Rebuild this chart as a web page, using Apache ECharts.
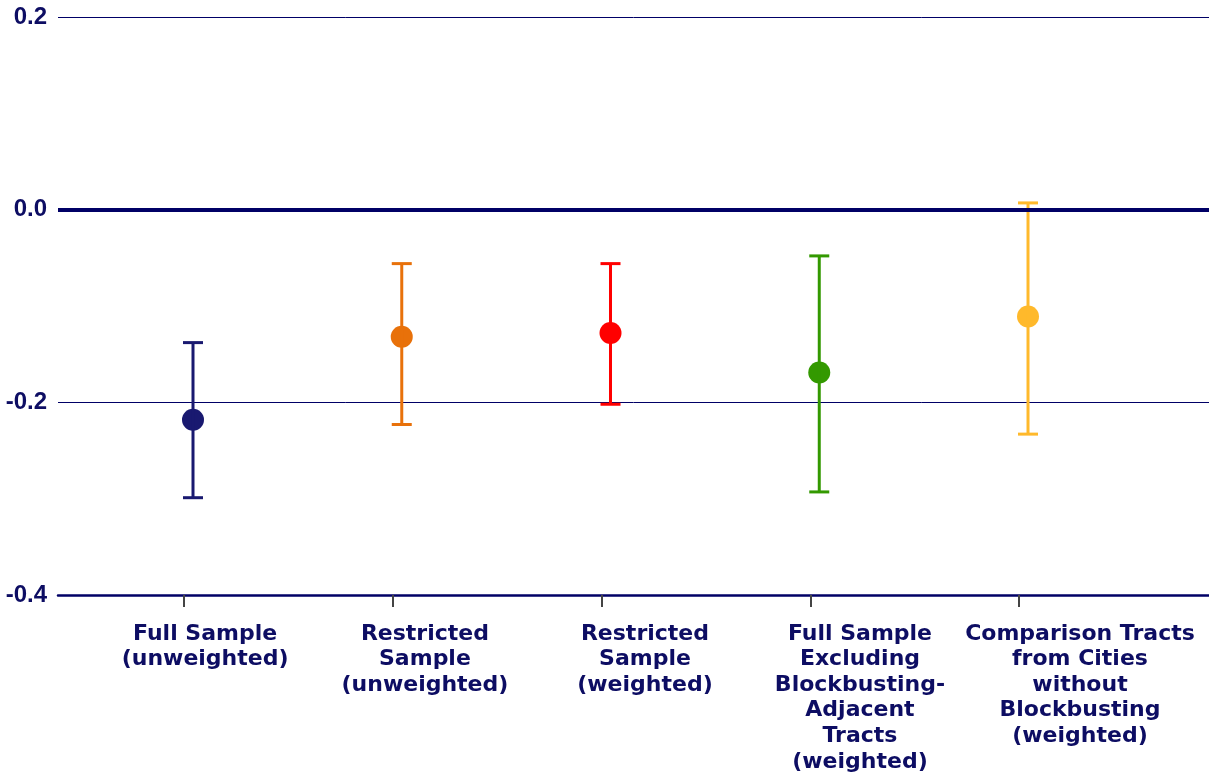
<!DOCTYPE html>
<html>
<head>
<meta charset="utf-8">
<title>Estimates with confidence intervals</title>
<script src="https://cdn.jsdelivr.net/npm/echarts@6/dist/echarts.min.js"></script>
<style>
html,body{margin:0;padding:0;background:#fff;}
#chart{width:1209px;height:776px;}
</style>
</head>
<body>
<div id="chart"></div>
<script>
/* =================================
   data
================================= */

const categories=[
"Full Sample\n(unweighted)",
"Restricted\nSample\n(unweighted)",
"Restricted\nSample\n(weighted)",
"Full Sample\nExcluding\nBlockbusting-\nAdjacent\nTracts\n(weighted)",
"Comparison Tracts\nfrom Cities\nwithout\nBlockbusting\n(weighted)"
];

const estimates=[-0.218,-0.132,-0.128,-0.169,-0.111];

const upper=[-0.138,-0.056,-0.056,-0.048,0.007];

const lower=[-0.299,-0.223,-0.202,-0.293,-0.233];

const yTicks=[-0.4,-0.2,0.0,0.2];

const colors=["#191970","#e8710a","#ff0000","#339900","#ffb92b"];


/* =================================
   layout (x axis positions in category units)
================================= */

const tickShift=-0.043;
const labelShift=[0.058,0.111,0.165,0.195,0.249];

const navy="#000066";
const textNavy="#0d0d63";


/* =================================
   chart
================================= */

let chart=echarts.init(document.getElementById("chart"));

let tickPos=categories.map((c,i)=>i+tickShift);
let labelPos=categories.map((c,i)=>i+labelShift[i]);

let points=estimates.map((v,i)=>[i,v]);
let bars=estimates.map((v,i)=>[i,lower[i],upper[i]]);


function renderBar(params,api){

let x=api.value(0);
let lo=api.coord([x,api.value(1)]);
let hi=api.coord([x,api.value(2)]);
let half=10;

let style={stroke:colors[params.dataIndex],lineWidth:3};

return {
type:"group",
children:[
{type:"line",shape:{x1:hi[0],y1:hi[1],x2:lo[0],y2:lo[1]},style:style},
{type:"line",shape:{x1:hi[0]-half,y1:hi[1],x2:hi[0]+half,y2:hi[1]},style:style},
{type:"line",shape:{x1:lo[0]-half,y1:lo[1],x2:lo[0]+half,y2:lo[1]},style:style}
]
};

}


chart.setOption({

backgroundColor:"#fff",

animation:false,

grid:{
left:58,
right:0,
top:17,
bottom:181
},

xAxis:{
type:"value",
min:-0.6467,
max:4.867,
splitLine:{show:false},
axisLine:{
show:true,
onZero:false,
lineStyle:{color:navy,width:2.5}
},
axisTick:{
show:true,
customValues:tickPos,
length:12,
lineStyle:{color:"#444",width:2}
},
axisLabel:{
customValues:labelPos,
margin:26,
color:textNavy,
fontFamily:"DejaVu Sans",
fontWeight:"bold",
fontSize:22,
lineHeight:25.6,
align:"center",
verticalAlign:"top",
formatter:function(v){
let i=labelPos.findIndex(p=>Math.abs(p-v)<1e-6);
return i<0?"":categories[i];
}
}
},

yAxis:{
type:"value",
min:-0.4,
max:0.2,
interval:0.2,
axisLine:{show:false},
axisTick:{show:false},
splitLine:{
show:true,
lineStyle:{color:navy,width:1}
},
axisLabel:{
margin:11,
color:textNavy,
fontFamily:"Liberation Sans",
fontWeight:"bold",
fontSize:24,
formatter:function(v){
let t=yTicks.find(x=>Math.abs(x-v)<1e-9);
return t===undefined?"":t.toFixed(1);
}
}
},

series:[

{
type:"scatter",
z:2,
data:points,
symbol:"circle",
symbolSize:22,
itemStyle:{
opacity:1,
color:function(p){return colors[p.dataIndex];}
},
markLine:{
silent:true,
symbol:["none","none"],
label:{show:false},
lineStyle:{color:navy,width:4,type:"solid"},
data:[{yAxis:0}]
}
},

{
type:"custom",
z:3,
renderItem:renderBar,
data:bars
}

]

});
</script>
</body>
</html>
